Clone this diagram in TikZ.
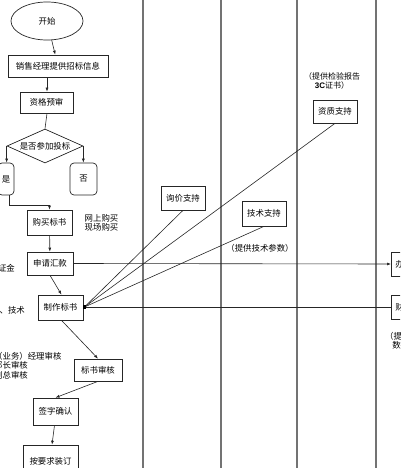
\documentclass[tikz,border=0pt]{standalone}
\usepackage{fontspec}
\setmainfont{Noto Sans CJK SC}
\newfontfamily\latinbold{Liberation Sans}
\usetikzlibrary{arrows.meta,shapes.geometric}
\begin{document}
\begin{tikzpicture}[x=1pt,y=-1pt,
  every node/.style={font=\fontsize{8.4}{9.6}\selectfont, inner sep=0pt},
  box/.style={draw=black!85, line width=0.7pt, rectangle},
  rbox/.style={draw=black!85, line width=0.7pt, rectangle, rounded corners=4pt},
  startsh/.style={draw=black!85, line width=0.7pt, ellipse},
  decide/.style={draw=black!85, line width=0.7pt, diamond, aspect=2.235},
  note/.style={align=center},
  lane/.style={draw=black!55, line width=1.3pt},
  conn/.style={draw=black!85, line width=0.6pt},
  arr/.style={conn, -{Latex[length=4pt,width=3pt]}}]
\path[use as bounding box] (0,0) rectangle (400,468);
\clip (0,0) rectangle (400,468);
% swim lane separators
\coordinate (la1) at (143,-2); \coordinate (lb1) at (143,470);
\coordinate (la2) at (221,-2); \coordinate (lb2) at (221,470);
\coordinate (la3) at (297,-2); \coordinate (lb3) at (297,470);
\coordinate (la4) at (376,-2); \coordinate (lb4) at (376,470);
\draw[lane] (la1) -- (lb1);
\draw[lane] (la2) -- (lb2);
\draw[lane] (la3) -- (lb3);
\draw[lane] (la4) -- (lb4);
% main column
\node[startsh, minimum width=72pt, minimum height=38pt] (start) at (47,21) {开始};
\node[box, minimum width=100pt, minimum height=22pt] (info) at (58,66) {销售经理提供招标信息};
\node[box, minimum width=53pt, minimum height=21pt] (pre) at (46.5,102.5) {资格预审};
\node[decide, minimum width=76pt, minimum height=34pt] (dec) at (45,146) {是否参加投标};
\node[rbox, minimum width=16pt, minimum height=32pt] (yes) at (6,179) {是};
\node[rbox, minimum width=27pt, minimum height=32pt] (no) at (83.5,179) {否};
\node[box, minimum width=45pt, minimum height=25pt] (buy) at (49.5,222.5) {购买标书};
\node[note] (buynote) at (101.5,223) {网上购买\\现场购买};
\node[box, minimum width=46pt, minimum height=23pt] (apply) at (50,263.5) {申请汇款};
\node[anchor=east] (depnote) at (15,268) {保证金};
\node[anchor=east] (technote) at (25,310) {、技术};
\node[box, minimum width=45pt, minimum height=25pt] (make) at (60.5,307.5) {制作标书};
\node[anchor=north west, align=left, font=\fontsize{8.4}{9.4}\selectfont] (revnote) at (-6,352) {（业务）经理审核\\部长审核\\副总审核};
\node[box, minimum width=48pt, minimum height=22pt] (review) at (98,370) {标书审核};
\node[box, minimum width=45pt, minimum height=27pt] (sign) at (55.5,411.5) {签字确认};
\node[box, minimum width=55pt, minimum height=32pt] (bind) at (50.5,461) {按要求装订};
% support lanes
\node[box, minimum width=44pt, minimum height=24pt] (price) at (183,198) {询价支持};
\node[box, minimum width=44pt, minimum height=25pt] (tech) at (264,213.5) {技术支持};
\node[note] (techtxt) at (260,248) {（提供技术参数）};
\node[box, minimum width=44pt, minimum height=23pt] (qual) at (335,111.5) {资质支持};
\node[note, font=\fontsize{8}{9.6}\selectfont] (qualtxt) at (332,81) {（提供检验报告\\{\latinbold\bfseries 3C}证书）};
% right lane (cut off)
\node[box, anchor=west, minimum height=24pt, inner xsep=4pt] (pay) at (391,264) {办理汇款};
\node[box, anchor=west, minimum height=24pt, inner xsep=4pt] (fin) at (391,307) {财务审核};
\node[anchor=north west, align=left] (finnote) at (385,332) {（提供\\\hspace*{0.85em}数据）};
% connectors
\coordinate (hub) at (84.5,307);
\draw[arr] (start) -- (info);
\draw[arr] (info.south -| start) -- (pre.north -| start);
\draw[conn] (pre.south -| start) -- (dec.north);
\draw[arr] (dec.west) -- (dec.west |- yes.north);
\draw[arr] (dec.east) -- (dec.east |- no.north);
\draw[arr] ([xshift=3pt]yes.south) -- ++(0,10) -| (buy.north);
\draw[arr] (buy) -- (apply);
\draw[arr] (apply.south) -- ([xshift=1pt]make.north);
\draw[arr] (apply.east) -- (pay.west);
\draw[conn] (hub) -- (fin.west);
\draw[conn] (price.south) -- (hub);
\draw[conn] (tech.south) -- (hub);
\draw[conn] (qual.south) -- (hub);
\fill[black] ([xshift=-1.6pt,yshift=-1.6pt]hub) rectangle ([xshift=1.6pt,yshift=1.6pt]hub);
\draw[arr] ([xshift=1pt]make.south) -- (review.north);
\draw[arr] (review.south) -- (sign.north);
\draw[arr] ([xshift=-1pt]sign.south) -- ([xshift=1.5pt]bind.north);
\end{tikzpicture}
\end{document}
